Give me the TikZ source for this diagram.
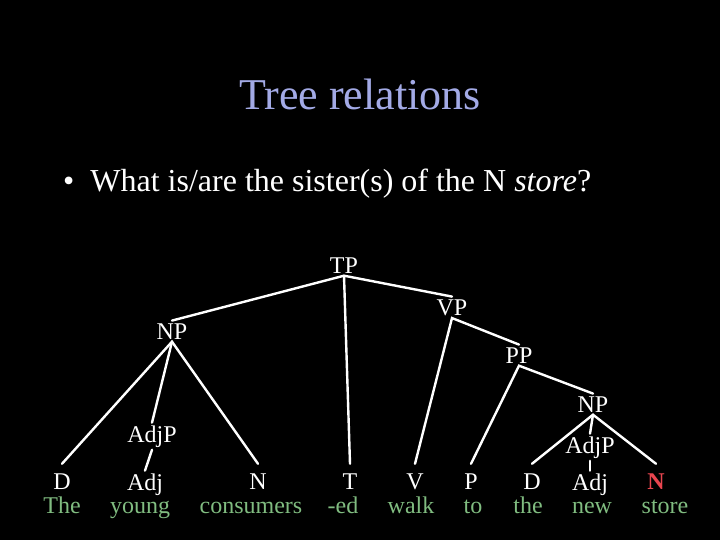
\documentclass[tikz,border=0pt]{standalone}
\usepackage{fontspec}
\setmainfont{Liberation Serif}
\usetikzlibrary{positioning}
\definecolor{ctitle}{HTML}{A3AAE6}
\definecolor{cword}{HTML}{80BC80}
\definecolor{cred}{HTML}{E8454F}
\tikzset{
  every picture/.style={line width=2.4pt},
  title/.style={font=\fontsize{44}{50}\selectfont, text=ctitle, anchor=base, inner sep=0pt},
  bullet/.style={font=\fontsize{32}{38}\selectfont, text=white, anchor=base west, inner sep=0pt},
  branch/.style={draw=white, line cap=round},
}

\begin{document}
\begin{tikzpicture}[x=1pt, y=-1pt,
                    cat/.style={font=\fontsize{24}{28}\selectfont, text=white, anchor=base, inner sep=1.5pt},
                    leaf/.style={cat, outer sep=8pt},
                    word/.style={font=\fontsize{24}{28}\selectfont, text=cword, anchor=base, inner sep=1.5pt}]
  \fill[black] (0,0) rectangle (720,540);
  \useasboundingbox (0,0) rectangle (720,540);
  % heading
  \node[title] (head) at (360,110) {Tree relations};
  \node[bullet] (ask) at (62,192) {\textbullet\hspace{0.5em}What is/are the sister(s) of the N \textit{store}?};
  % phrase nodes
  \node[cat] (tp) at (344,273) {TP};
  \node[cat] (np) at (172,339) {NP};
  \node[cat] (vp) at (452,315) {VP};
  \node[cat] (pp) at (519,363) {PP};
  \node[cat] (npb) at (593,412) {NP};
  \node[cat] (adjpa) at (152,442) {AdjP};
  \node[cat] (adjpb) at (590,453) {AdjP};
  \node[cat] (adja) at (145,490) {Adj};
  \node[cat] (adjb) at (590,490) {Adj};
  % leaves and words
  \foreach \t/\x/\c [count=\i] in {D/62/white, N/258/white, T/350/white, V/415/white, P/471/white, D/532/white, \textbf{N}/656/cred}
    \node[leaf, text=\c] (l\i) at (\x,489) {\t};
  \foreach \w/\x [count=\i] in {The/62, young/140, consumers/251, -ed/343, walk/411, to/473, the/528, new/592, store/665}
    \node[word] (w\i) at (\x,513) {\w};
  % branches
  \draw[branch] (np.north) -- (tp.south) -- (vp.north);
  \draw[branch] (tp.south) -- (l3.north);
  \draw[branch] (l1.north) -- (np.south) -- (l2.north);
  \draw[branch] (np.south) -- (adjpa.north);
  \draw[branch] (adjpa.south) -- (adja.north);
  \draw[branch] (l4.north) -- (vp.south) -- (pp.north);
  \draw[branch] (l5.north) -- (pp.south) -- (npb.north);
  \draw[branch] (l6.north) -- (npb.south) -- (l7.north);
  \draw[branch] (npb.south) -- (adjpb.north);
  \draw[branch] (adjpb.south) -- (adjb.north);
\end{tikzpicture}
\end{document}
